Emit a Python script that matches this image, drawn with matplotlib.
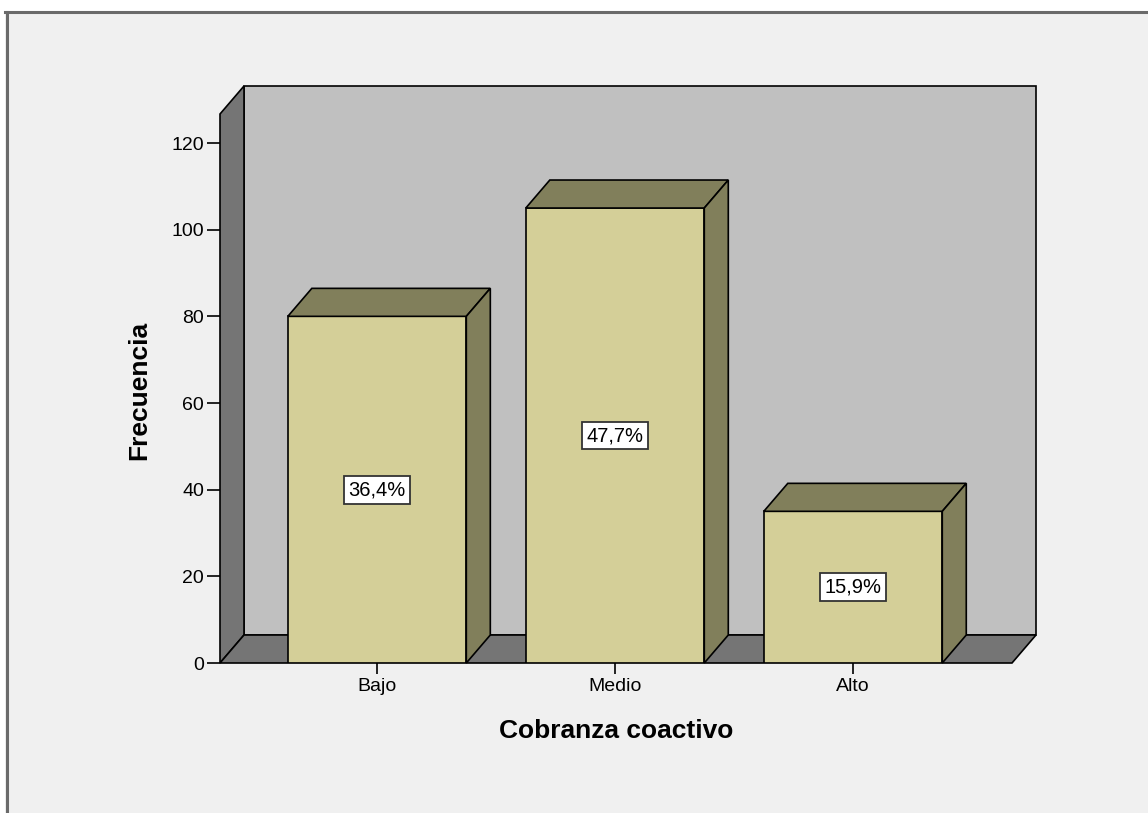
import numpy as np
import matplotlib.pyplot as plt
from matplotlib.patches import Polygon, Rectangle
from matplotlib.lines import Line2D

plt.rcParams["font.family"] = ["Liberation Sans", "DejaVu Sans"]

# datos
categorias = ["Bajo", "Medio", "Alto"]
frecuencias = [80, 105, 35]
porcentajes = ["36,4%", "47,7%", "15,9%"]
yticks = [0, 20, 40, 60, 80, 100, 120]

W, H = 1148, 813
fig = plt.figure(figsize=(W / 100, H / 100), dpi=100, facecolor="#f0f0f0")

# marco de la ventana (recortado arriba)
fig.patches.append(Rectangle((0, 1 - 11 / H), 1, 11 / H, transform=fig.transFigure,
                             fc="white", ec="none", zorder=-5))
fig.patches.append(Rectangle((0, 0), 5 / W, 1, transform=fig.transFigure,
                             fc="white", ec="none", zorder=-5))
fig.lines.append(Line2D([5 / W, 1], [1 - 12.5 / H] * 2, transform=fig.transFigure,
                        color="#6a6a6a", lw=2.2))
fig.lines.append(Line2D([6.5 / W] * 2, [0, 1 - 12 / H], transform=fig.transFigure,
                        color="#6a6a6a", lw=2.2))

ax = fig.add_axes([220 / W, 150 / H, 792 / W, 549 / H])
x0, x1 = -0.66, 2.668
ymax = 126.7
ax.set_xlim(x0, x1)
ax.set_ylim(0, ymax)
ax.patch.set_visible(False)
for s in ax.spines.values():
    s.set_visible(False)

# profundidad 3D (en unidades de datos)
dx = 24 / (792 / (x1 - x0))
dy = 28 / (549 / ymax)

lw = 1.2
pared = "#c0c0c0"
lado = "#757575"
frente = "#d4cf98"
sombra = "#817f5b"

# pared del fondo, pared izquierda y piso
ax.add_patch(Polygon([(x0 + dx, dy), (x1 + dx, dy), (x1 + dx, ymax + dy), (x0 + dx, ymax + dy)],
                     closed=True, fc=pared, ec="black", lw=lw, clip_on=False, zorder=0))
ax.add_patch(Polygon([(x0, 0), (x0 + dx, dy), (x0 + dx, ymax + dy), (x0, ymax)],
                     closed=True, fc=lado, ec="black", lw=lw, clip_on=False, zorder=1))
ax.add_patch(Polygon([(x0, 0), (x1, 0), (x1 + dx, dy), (x0 + dx, dy)],
                     closed=True, fc=lado, ec="black", lw=lw, clip_on=False, zorder=1))

xs = np.arange(len(categorias))
ancho = 0.75
ax.bar(xs, frecuencias, width=ancho, color=frente, edgecolor="black", lw=lw, zorder=3)
for xc, h, p in zip(xs, frecuencias, porcentajes):
    xl, xr = xc - ancho / 2, xc + ancho / 2
    ax.add_patch(Polygon([(xl, h), (xr, h), (xr + dx, h + dy), (xl + dx, h + dy)],
                         closed=True, fc=sombra, ec="black", lw=lw, zorder=3, clip_on=False))
    ax.add_patch(Polygon([(xr, 0), (xr + dx, dy), (xr + dx, h + dy), (xr, h)],
                         closed=True, fc=sombra, ec="black", lw=lw, zorder=3, clip_on=False))
    ax.text(xc, h / 2, p, ha="center", va="center", fontsize=14.5, zorder=5,
            bbox=dict(boxstyle="square,pad=0.22", fc="white", ec="#333333", lw=1.3))

ax.set_xticks(xs, categorias)
ax.set_yticks(yticks)
ax.tick_params(axis="x", length=8, width=1.2, pad=3, labelsize=14)
ax.tick_params(axis="y", length=9.5, width=1.2, pad=2, labelsize=14)

ax.set_ylabel("Frecuencia", fontsize=19, fontweight="bold", va="center")
ax.yaxis.set_label_coords(-0.102, 0.497)
ax.set_xlabel("Cobranza coactivo", fontsize=19, fontweight="bold", va="center")
ax.xaxis.set_label_coords(0.5, -0.124)

fig.savefig("out.png", dpi=100, facecolor=fig.get_facecolor())
